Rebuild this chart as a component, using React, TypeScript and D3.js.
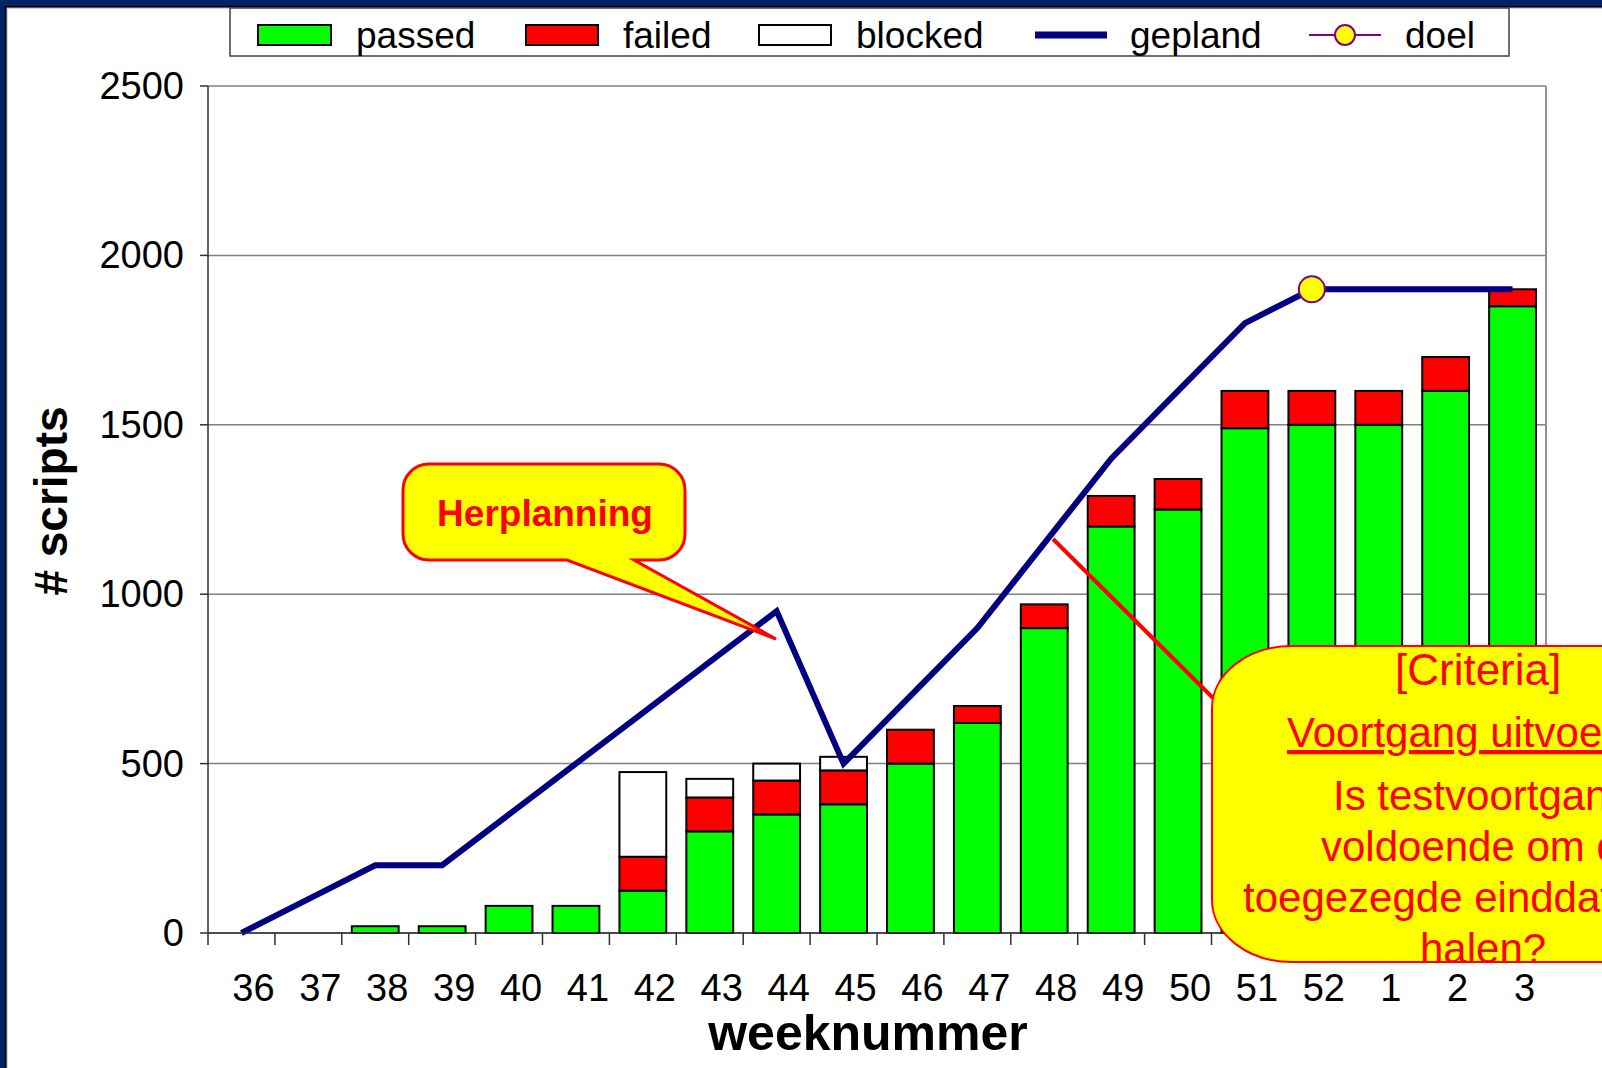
import React, { useEffect } from "react"
import * as d3 from "d3"

// week numbers on the x axis
const weeks = ["36", "37", "38", "39", "40", "41", "42", "43", "44", "45", "46", "47", "48", "49", "50", "51", "52", "1", "2", "3"]

const passed = [0, 0, 20, 20, 80, 80, 125, 300, 350, 380, 500, 620, 900, 1200, 1250, 1490, 1500, 1500, 1600, 1850]
const failed = [0, 0, 0, 0, 0, 0, 100, 100, 100, 100, 100, 50, 70, 90, 90, 110, 100, 100, 100, 50]
const blocked = [0, 0, 0, 0, 0, 0, 250, 55, 50, 40, 0, 0, 0, 0, 0, 0, 0, 0, 0, 0]
const gepland = [0, 100, 200, 200, 350, 500, 650, 800, 950, 500, 700, 900, 1150, 1400, 1600, 1800, 1900, 1900, 1900, 1900]
const doel: (number | null)[] = [null, null, null, null, null, null, null, null, null, null, null, null, null, null, null, null, 1900, null, null, null]

const yTicks = [0, 500, 1000, 1500, 2000, 2500]

const criteriaLines = ["Is testvoortgang", "voldoende om de", "toegezegde einddatum te", "halen?"]

const W = 1602
const H = 1068
const FONT = "'Liberation Sans', Arial, sans-serif"

export default function App() {
  useEffect(() => {
    document.body.style.margin = "0"
    document.body.style.overflow = "hidden"
  }, [])

  const margin = { left: 208, right: 1546, top: 86, bottom: 933 }

  const x = d3
    .scaleBand()
    .domain(weeks)
    .range([margin.left, margin.right])
    .paddingInner(0.3)
    .paddingOuter(0.15)

  const y = d3.scaleLinear().domain([0, 2500]).range([margin.bottom, margin.top])

  const rows = weeks.map((w, i) => ({ week: w, passed: passed[i], failed: failed[i], blocked: blocked[i] }))
  const keys = ["passed", "failed", "blocked"]
  const colors: Record<string, string> = { passed: "#00ff00", failed: "#ff0000", blocked: "#ffffff" }
  const series = d3.stack<any>().keys(keys)(rows)

  const step = x.step()
  const cx = (w: string) => (x(w) || 0) + x.bandwidth() / 2

  const line = d3
    .line<number>()
    .x((d, i) => cx(weeks[i]))
    .y(d => y(d))

  // callout 1 shape
  const c1 = { x0: 403, y0: 464, x1: 685, y1: 560, r: 26, b1: 567, b2: 634, tx: 776, ty: 639 }
  const c1Path =
    `M${c1.x0 + c1.r},${c1.y0} H${c1.x1 - c1.r} A${c1.r},${c1.r} 0 0 1 ${c1.x1},${c1.y0 + c1.r} ` +
    `V${c1.y1 - c1.r} A${c1.r},${c1.r} 0 0 1 ${c1.x1 - c1.r},${c1.y1} H${c1.b2} L${c1.tx},${c1.ty} L${c1.b1},${c1.y1} ` +
    `H${c1.x0 + c1.r} A${c1.r},${c1.r} 0 0 1 ${c1.x0},${c1.y1 - c1.r} V${c1.y0 + c1.r} A${c1.r},${c1.r} 0 0 1 ${c1.x0 + c1.r},${c1.y0} Z`

  const legendY = 35

  return (
    <svg width={W} height={H} style={{ position: "absolute", left: 0, top: 0, display: "block" }} fontFamily={FONT}>
      {/* slide frame */}
      <rect x={0} y={0} width={W} height={H} fill="#002462" />
      <rect x={5} y={6} width={W} height={H} fill="#000000" />
      <rect x={7} y={8} width={W} height={H} fill="#ffffff" stroke="#b0b0b0" strokeWidth={1} />

      {/* legend */}
      <rect x={230} y={8} width={1279} height={48} fill="#ffffff" stroke="#404040" strokeWidth={1.5} />
      <rect x={258} y={25} width={73} height={20} fill={colors.passed} stroke="#000" strokeWidth={2} />
      <text x={356} y={legendY + 13} fontSize={37}>passed</text>
      <rect x={526} y={25} width={72} height={20} fill={colors.failed} stroke="#000" strokeWidth={2} />
      <text x={623} y={legendY + 13} fontSize={37}>failed</text>
      <rect x={759} y={25} width={72} height={20} fill={colors.blocked} stroke="#000" strokeWidth={2} />
      <text x={856} y={legendY + 13} fontSize={37}>blocked</text>
      <line x1={1035} x2={1107} y1={legendY} y2={legendY} stroke="#000080" strokeWidth={7} />
      <text x={1130} y={legendY + 13} fontSize={37}>gepland</text>
      <line x1={1309} x2={1381} y1={legendY} y2={legendY} stroke="#800080" strokeWidth={2} />
      <circle cx={1345} cy={legendY} r={10} fill="#ffff00" stroke="#800080" strokeWidth={2} />
      <text x={1405} y={legendY + 13} fontSize={37}>doel</text>

      {/* grid */}
      {yTicks.map(t => (
        <line key={t} x1={margin.left} x2={margin.right} y1={y(t)} y2={y(t)} stroke="#808080" strokeWidth={1.5} />
      ))}
      <line x1={margin.right} x2={margin.right} y1={margin.top} y2={margin.bottom} stroke="#909090" strokeWidth={2} />

      {/* stacked bars */}
      {series.map(s => (
        <g key={s.key} fill={colors[s.key]} stroke="#000" strokeWidth={2}>
          {s
            .filter(d => d[1] - d[0] > 0)
            .map(d => (
              <rect
                key={d.data.week}
                x={x(d.data.week)}
                y={y(d[1])}
                width={x.bandwidth()}
                height={y(d[0]) - y(d[1])}
              />
            ))}
        </g>
      ))}

      {/* planned line */}
      <path d={line(gepland) || ""} fill="none" stroke="#000080" strokeWidth={6} strokeLinejoin="miter" />

      {/* target marker */}
      {doel.map((v, i) =>
        v == null ? null : (
          <circle key={i} cx={cx(weeks[i])} cy={y(v)} r={13} fill="#ffff00" stroke="#800080" strokeWidth={2} />
        )
      )}

      {/* axes */}
      <line x1={margin.left} x2={margin.left} y1={margin.top} y2={margin.bottom} stroke="#303030" strokeWidth={1.5} />
      <line x1={margin.left} x2={margin.right} y1={margin.bottom} y2={margin.bottom} stroke="#303030" strokeWidth={1.5} />
      {yTicks.map(t => (
        <g key={t}>
          <line x1={margin.left - 8} x2={margin.left} y1={y(t)} y2={y(t)} stroke="#303030" strokeWidth={1.5} />
          <text x={184} y={y(t) + 13} fontSize={38} textAnchor="end">{t}</text>
        </g>
      ))}
      {d3.range(weeks.length + 1).map(i => (
        <line
          key={i}
          x1={margin.left + i * step}
          x2={margin.left + i * step}
          y1={margin.bottom}
          y2={margin.bottom + 12}
          stroke="#303030"
          strokeWidth={1.5}
        />
      ))}
      {weeks.map(w => (
        <text key={w} x={cx(w) + 12} y={1001} fontSize={38} textAnchor="middle">{w}</text>
      ))}

      <text x={868} y={1050} fontSize={50} fontWeight="bold" textAnchor="middle">weeknummer</text>
      <text transform="translate(67,501) rotate(-90)" fontSize={46} fontWeight="bold" textAnchor="middle"># scripts</text>

      {/* callout: Herplanning */}
      <path d={c1Path} fill="#ffff00" stroke="#ff0000" strokeWidth={3} strokeLinejoin="miter" />
      <text x={545} y={526} fontSize={37} fontWeight="bold" fill="#ff0000" textAnchor="middle">Herplanning</text>

      {/* callout: criteria */}
      <line x1={1053} y1={539} x2={1213} y2={698} stroke="#ff0000" strokeWidth={4} />
      <rect x={1212} y={646} width={560} height={316} rx={80} ry={62} fill="#ffff00" stroke="#ff0000" strokeWidth={2} />
      <text x={1395} y={685} fontSize={44} fill="#ff0000">[Criteria]</text>
      <text x={1287} y={747} fontSize={42} fill="#ff0000" textDecoration="underline">Voortgang uitvoering</text>
      {criteriaLines.map((t, i) => (
        <text key={t} x={[1333, 1321, 1243, 1420][i]} y={810 + i * 51} fontSize={42} fill="#ff0000">{t}</text>
      ))}
    </svg>
  )
}
